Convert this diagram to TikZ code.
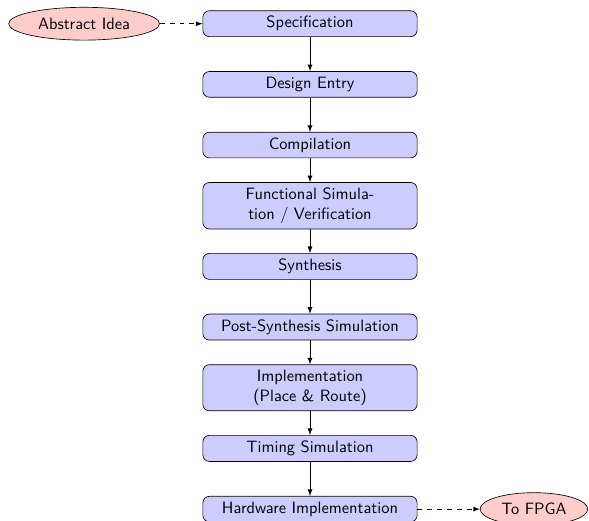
\documentclass[tikz,border=0pt]{standalone}
\usepackage{amsmath}
\usepackage{tikz}
\usetikzlibrary{shapes.geometric,positioning}

\tikzset{
  block/.style={rectangle, draw, fill=blue!20, text width=124pt, align=center, rounded corners, font=\sffamily},
  cloud/.style={draw, ellipse, fill=red!20, minimum height=2em, font=\sffamily},
  line/.style={draw, -latex},
  dashline/.style={draw, dashed, -latex}
}

\begin{document}
\begin{tikzpicture}
%\draw[help lines=.1] (-4,-4) grid (4,4);
\useasboundingbox (-189pt,14.45pt) rectangle (170.1pt,-302.65pt);

 \node[block] (spec) at (0,0) {Specification};
 \node[block] (entry) at (0,-1.3) {Design Entry};
 \node[block] (comp) at (0,-2.6) {Compilation};
 \node[block] (funcsim) at (0,-3.9) {Functional Simula-\\tion / Verification};
 \node[block] (synth) at (0,-5.2) {Synthesis};
 \node[block] (postsim) at (0,-6.5) {Post-Synthesis Simulation};
 \node[block] (impl) at (0,-7.8) {Implementation\\(Place \& Route)};
 \node[block] (timing) at (0,-9.1) {Timing Simulation};
 \node[block] (hw) at (0,-10.4) {Hardware Implementation};

 \node[cloud, minimum width=92pt, left=26pt of spec] (idea) {Abstract Idea};
 \node[cloud, right=38pt of hw] (fpga) {To FPGA};

 \path[dashline] (idea) -- (spec);
 \path[line] (spec) -- (entry);
 \path[line] (entry) -- (comp);
 \path[line] (comp) -- (funcsim);
 \path[line] (funcsim) -- (synth);
 \path[line] (synth) -- (postsim);
 \path[line] (postsim) -- (impl);
 \path[line] (impl) -- (timing);
 \path[line] (timing) -- (hw);
 \path[dashline] (hw) -- (fpga);

\end{tikzpicture}
\end{document}
